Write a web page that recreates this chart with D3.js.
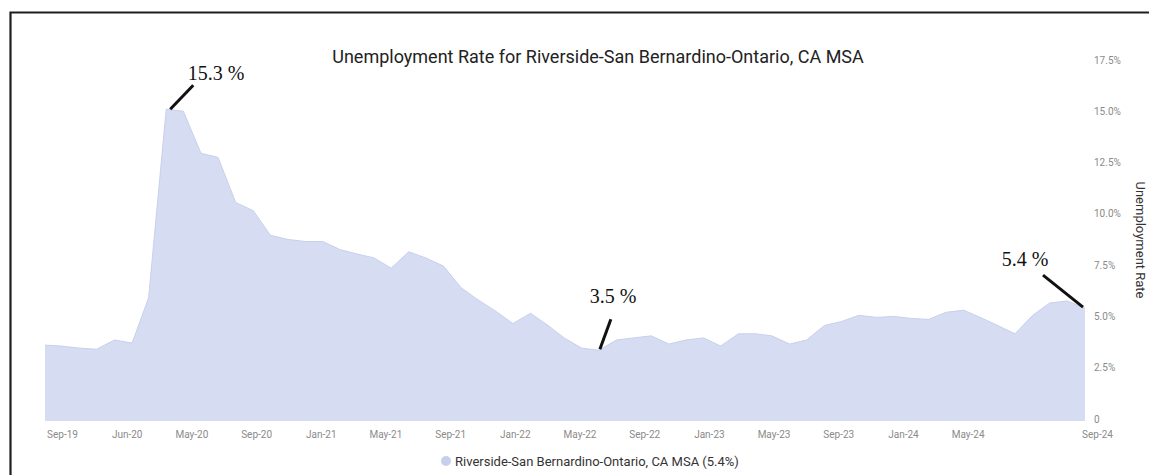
<!DOCTYPE html>
<html>
<head>
<meta charset="utf-8">
<script src="https://cdn.jsdelivr.net/npm/d3@7"></script>
<style>
  body { margin: 0; background: #fff; }
  svg { display: block; }
  .x-axis text, .y-axis text { font-family: Roboto, sans-serif; font-size: 10px; fill: #8a8a8a; }
</style>
</head>
<body>
<div id="chart-area"></div>
<script>
// monthly unemployment rate, Sep 2019 .. Sep 2024
const rates = [
  3.7, 3.65, 3.55, 3.5, 3.95, 3.8, 6.0, 15.2, 15.1, 13.05, 12.85, 10.65, 10.25,
  9.05, 8.85, 8.75, 8.75, 8.35, 8.15, 7.95, 7.45, 8.25, 7.95, 7.55, 6.5, 5.9,
  5.35, 4.75, 5.25, 4.65, 4.05, 3.55, 3.45, 3.95, 4.05, 4.15, 3.75, 3.95, 4.05,
  3.65, 4.25, 4.25, 4.15, 3.75, 3.95, 4.65, 4.85, 5.15, 5.05, 5.1, 5.0, 4.95,
  5.3, 5.4, 5.05, 4.65, 4.25, 5.15, 5.75, 5.85, 5.5
]
const months = d3.timeMonth.range(new Date(2019, 8, 1), new Date(2024, 9, 1))

const tickLabels = ["Sep-19", "Jun-20", "May-20", "Sep-20", "Jan-21", "May-21", "Sep-21", "Jan-22",
  "May-22", "Sep-22", "Jan-23", "May-23", "Sep-23", "Jan-24", "May-24", "Sep-24"]
const tickSlots = [0, 1, 2, 3, 4, 5, 6, 7, 8, 9, 10, 11, 12, 13, 14, 16]

const yTicks = [0, 2.5, 5, 7.5, 10, 12.5, 15, 17.5]

const notes = [
  { index: 7, text: "15.3 %" },
  { index: 32, text: "3.5 %" },
  { index: 60, text: "5.4 %" }
]
const noteOffsets = [
  { x1: 4, y1: 0, x2: 27, y2: -24, tx: 216, ty: 80 },
  { x1: 1, y1: -1, x2: 12, y2: -31, tx: 613, ty: 303 },
  { x1: -2, y1: -1, x2: -42, y2: -33, tx: 1025, ty: 266 }
]

const seriesName = "Riverside-San Bernardino-Ontario, CA MSA (5.4%)"

function drawChart() {
    const dataset = months.map((d, i) => ({ date: d, rate: rates[i] }))
    const xAccessor = d => d.date
    const yAccessor = d => d.rate

    const svgWidth = 1149
    const svgHeight = 475
    const margin = { left: 45, right: 64, top: 62, bottom: 54 }

    const xScale = d3.scaleTime()
        .domain(d3.extent(dataset, xAccessor))
        .range([margin.left, svgWidth - margin.right])

    const yScale = d3.scaleLinear()
        .domain([0, 17.5])
        .range([svgHeight - margin.bottom, margin.top])

    const labelScale = d3.scaleLinear()
        .domain([0, 16])
        .range([62, 1097])

    const svg = d3.select("#chart-area")
        .append("svg")
        .attr("width", svgWidth)
        .attr("height", svgHeight)

    // frame
    svg.append("path")
        .attr("d", `M10.5,${svgHeight + 2} V12.5 H${svgWidth + 2}`)
        .attr("fill", "none")
        .attr("stroke", "#1e1e1e")
        .attr("stroke-width", 2.2)

    svg.append("text")
        .attr("x", 598)
        .attr("y", 63)
        .attr("text-anchor", "middle")
        .attr("font-family", "Roboto, sans-serif")
        .attr("font-size", 18)
        .attr("fill", "#222")
        .text("Unemployment Rate for Riverside-San Bernardino-Ontario, CA MSA")

    const areaGenerator = d3.area()
        .x(d => xScale(xAccessor(d)))
        .y0(yScale(0))
        .y1(d => yScale(yAccessor(d)))

    svg.append("path")
        .attr("d", areaGenerator(dataset))
        .attr("fill", "#d6ddf3")

    svg.append("path")
        .attr("d", d3.line()
            .x(d => xScale(xAccessor(d)))
            .y(d => yScale(yAccessor(d)))(dataset))
        .attr("fill", "none")
        .attr("stroke", "#c7d0ee")
        .attr("stroke-width", 1)

    const xAxis = svg.append("g")
        .attr("class", "x-axis")
        .attr("transform", `translate(0,${yScale(0) + 10})`)
        .call(d3.axisBottom(labelScale)
            .tickValues(tickSlots)
            .tickSize(0)
            .tickPadding(0)
            .tickFormat((d, i) => tickLabels[i]))
    xAxis.select(".domain").remove()
    xAxis.selectAll("text").attr("dy", "0.71em")

    const yAxis = svg.append("g")
        .attr("class", "y-axis")
        .attr("transform", `translate(${svgWidth - margin.right + 9},0)`)
        .call(d3.axisRight(yScale)
            .tickValues(yTicks)
            .tickSize(0)
            .tickPadding(0)
            .tickFormat(d => d === 0 ? "0" : d.toFixed(1) + "%"))
    yAxis.select(".domain").remove()
    yAxis.selectAll("text").attr("dy", "0.1em")

    svg.append("text")
        .attr("transform", `translate(1136,240) rotate(90)`)
        .attr("text-anchor", "middle")
        .attr("font-family", "Roboto, sans-serif")
        .attr("font-size", 13)
        .attr("fill", "#333")
        .text("Unemployment Rate")

    // hand drawn callouts
    notes.forEach((n, k) => {
        const o = noteOffsets[k]
        const px = xScale(months[n.index])
        const py = yScale(rates[n.index])
        svg.append("line")
            .attr("x1", px + o.x1)
            .attr("y1", py + o.y1)
            .attr("x2", px + o.x2)
            .attr("y2", py + o.y2)
            .attr("stroke", "#111")
            .attr("stroke-width", 3)
        svg.append("text")
            .attr("x", o.tx)
            .attr("y", o.ty)
            .attr("text-anchor", "middle")
            .attr("font-family", "'Liberation Serif', 'DejaVu Serif', serif")
            .attr("font-size", 20)
            .attr("fill", "#111")
            .text(n.text)
    })

    // legend
    const legend = svg.append("g")
        .attr("transform", "translate(446,461)")
    legend.append("circle")
        .attr("r", 5)
        .attr("fill", "#c6d0ec")
    legend.append("text")
        .attr("x", 9)
        .attr("y", 4.5)
        .attr("font-family", "Roboto, sans-serif")
        .attr("font-size", 13)
        .attr("fill", "#333")
        .text(seriesName)
}

drawChart()
</script>
</body>
</html>
